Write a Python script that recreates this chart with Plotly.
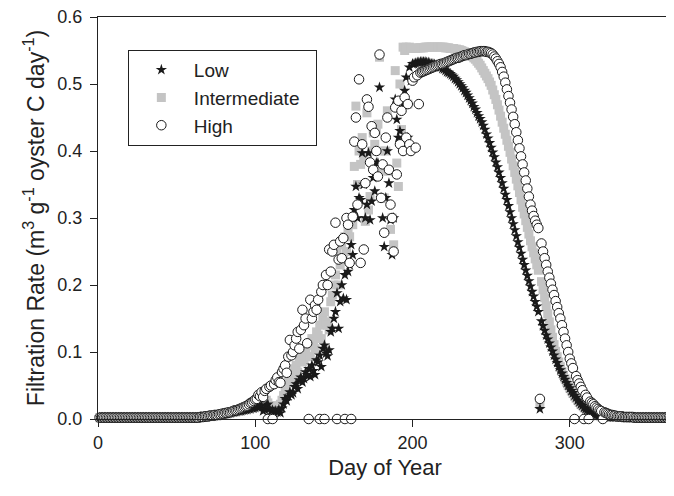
import plotly.graph_objects as go

# daily filtration rate, m3 g-1 oyster C day-1
days = list(range(1, 366))

low = [
    0.002, 0.002, 0.002, 0.002, 0.002, 0.002, 0.002, 0.002, 0.002, 0.002,
    0.002, 0.002, 0.002, 0.002, 0.002, 0.002, 0.002, 0.002, 0.002, 0.002,
    0.002, 0.002, 0.002, 0.002, 0.002, 0.002, 0.002, 0.002, 0.002, 0.002,
    0.002, 0.002, 0.002, 0.002, 0.002, 0.002, 0.002, 0.002, 0.002, 0.002,
    0.002, 0.002, 0.002, 0.002, 0.002, 0.002, 0.002, 0.002, 0.002, 0.002,
    0.002, 0.002, 0.002, 0.002, 0.002, 0.002, 0.002, 0.002, 0.002, 0.002,
    0.002, 0.002, 0.002, 0.002, 0.003, 0.003, 0.003, 0.003, 0.003, 0.004,
    0.004, 0.004, 0.004, 0.005, 0.005, 0.005, 0.006, 0.006, 0.007, 0.007,
    0.008, 0.008, 0.009, 0.009, 0.010, 0.010, 0.011, 0.011, 0.012, 0.012,
    0.012, 0.013, 0.013, 0.014, 0.014, 0.015, 0.015, 0.016, 0.016, 0.017,
    0.018, 0.018, 0.019, 0.020, 0.012, 0.014, 0.020, 0.022, 0.015, 0.012,
    0.013, 0.011, 0.012, 0.010, 0.014, 0.009, 0.016, 0.022, 0.030, 0.027,
    0.034, 0.040, 0.036, 0.039, 0.048, 0.052, 0.045, 0.058, 0.062, 0.055,
    0.060, 0.070, 0.066, 0.075, 0.063, 0.080, 0.072, 0.066, 0.088, 0.085,
    0.095, 0.078, 0.105, 0.110, 0.098, 0.094, 0.103, 0.130, 0.135, 0.150,
    0.160, 0.188, 0.135, 0.175, 0.200, 0.180, 0.215, 0.178, 0.220, 0.230,
    0.260, 0.245, 0.312, 0.347, 0.300, 0.330, 0.327, 0.397, 0.350, 0.300,
    0.320, 0.397, 0.297, 0.325, 0.360, 0.340, 0.382, 0.382, 0.495, 0.330,
    0.300, 0.257, 0.330, 0.400, 0.352, 0.297, 0.245, 0.300, 0.477, 0.447,
    0.420, 0.430, 0.415, 0.470, 0.490, 0.510, 0.420, 0.525, 0.505, 0.530,
    0.530, 0.531, 0.532, 0.532, 0.533, 0.533, 0.533, 0.533, 0.532, 0.532,
    0.531, 0.530, 0.530, 0.529, 0.528, 0.527, 0.526, 0.525, 0.523, 0.522,
    0.520, 0.518, 0.517, 0.515, 0.513, 0.511, 0.508, 0.506, 0.503, 0.500,
    0.497, 0.494, 0.490, 0.487, 0.483, 0.479, 0.475, 0.471, 0.466, 0.462,
    0.457, 0.452, 0.448, 0.443, 0.438, 0.432, 0.425, 0.419, 0.412, 0.405,
    0.398, 0.391, 0.383, 0.376, 0.368, 0.360, 0.352, 0.344, 0.335, 0.327,
    0.318, 0.309, 0.300, 0.291, 0.282, 0.273, 0.264, 0.256, 0.247, 0.238,
    0.230, 0.222, 0.214, 0.206, 0.198, 0.190, 0.183, 0.175, 0.168, 0.160,
    0.015, 0.146, 0.139, 0.132, 0.125, 0.119, 0.113, 0.107, 0.101, 0.095,
    0.089, 0.084, 0.078, 0.073, 0.068, 0.063, 0.059, 0.054, 0.050, 0.046,
    0.042, 0.039, 0.035, 0.032, 0.028, 0.025, 0.022, 0.020, 0.017, 0.015,
    0.013, 0.011, 0.010, 0.009, 0.008, 0.007, 0.006, 0.005, 0.005, 0.004,
    0.004, 0.004, 0.004, 0.003, 0.003, 0.003, 0.003, 0.003, 0.003, 0.003,
    0.003, 0.003, 0.003, 0.003, 0.002, 0.002, 0.002, 0.002, 0.002, 0.002,
    0.002, 0.002, 0.002, 0.002, 0.002, 0.002, 0.002, 0.002, 0.002, 0.002,
    0.002, 0.002, 0.002, 0.002, 0.002, 0.002, 0.002, 0.002, 0.002, 0.002,
    0.002, 0.002, 0.002, 0.002, 0.002,
]

intermediate = [
    0.002, 0.002, 0.002, 0.002, 0.002, 0.002, 0.002, 0.002, 0.002, 0.002,
    0.002, 0.002, 0.002, 0.002, 0.002, 0.002, 0.002, 0.002, 0.002, 0.002,
    0.002, 0.002, 0.002, 0.002, 0.002, 0.002, 0.002, 0.002, 0.002, 0.002,
    0.002, 0.002, 0.002, 0.002, 0.002, 0.002, 0.002, 0.002, 0.002, 0.002,
    0.002, 0.002, 0.002, 0.002, 0.002, 0.002, 0.002, 0.002, 0.002, 0.002,
    0.002, 0.002, 0.002, 0.002, 0.002, 0.002, 0.002, 0.002, 0.002, 0.002,
    0.002, 0.002, 0.002, 0.002, 0.003, 0.003, 0.003, 0.003, 0.003, 0.004,
    0.004, 0.004, 0.004, 0.005, 0.005, 0.005, 0.006, 0.006, 0.007, 0.007,
    0.008, 0.008, 0.009, 0.009, 0.010, 0.010, 0.011, 0.011, 0.012, 0.012,
    0.013, 0.014, 0.015, 0.016, 0.017, 0.018, 0.019, 0.020, 0.021, 0.022,
    0.023, 0.024, 0.025, 0.020, 0.022, 0.026, 0.028, 0.024, 0.020, 0.018,
    0.020, 0.018, 0.016, 0.019, 0.018, 0.022, 0.028, 0.035, 0.045, 0.050,
    0.055, 0.062, 0.058, 0.066, 0.075, 0.080, 0.070, 0.088, 0.095, 0.085,
    0.090, 0.105, 0.093, 0.110, 0.093, 0.120, 0.115, 0.105, 0.130, 0.125,
    0.140, 0.120, 0.150, 0.160, 0.145, 0.140, 0.133, 0.175, 0.185, 0.200,
    0.215, 0.250, 0.200, 0.230, 0.260, 0.240, 0.272, 0.250, 0.280, 0.272,
    0.300, 0.290, 0.377, 0.467, 0.350, 0.400, 0.380, 0.420, 0.390, 0.295,
    0.457, 0.312, 0.332, 0.400, 0.427, 0.410, 0.430, 0.440, 0.540, 0.400,
    0.370, 0.330, 0.400, 0.460, 0.370, 0.283, 0.300, 0.260, 0.520, 0.382,
    0.347, 0.500, 0.432, 0.555, 0.550, 0.555, 0.470, 0.555, 0.553, 0.553,
    0.553, 0.553, 0.554, 0.554, 0.554, 0.554, 0.554, 0.555, 0.555, 0.555,
    0.555, 0.555, 0.555, 0.555, 0.555, 0.555, 0.555, 0.555, 0.555, 0.555,
    0.554, 0.554, 0.554, 0.553, 0.553, 0.553, 0.552, 0.552, 0.551, 0.551,
    0.550, 0.549, 0.548, 0.547, 0.546, 0.545, 0.543, 0.541, 0.539, 0.537,
    0.534, 0.531, 0.528, 0.524, 0.520, 0.516, 0.512, 0.508, 0.503, 0.498,
    0.491, 0.484, 0.477, 0.469, 0.461, 0.452, 0.443, 0.434, 0.425, 0.416,
    0.407, 0.398, 0.388, 0.378, 0.368, 0.358, 0.348, 0.338, 0.327, 0.316,
    0.306, 0.296, 0.286, 0.276, 0.266, 0.257, 0.248, 0.239, 0.230, 0.222,
    0.022, 0.205, 0.193, 0.181, 0.169, 0.157, 0.145, 0.133, 0.122, 0.111,
    0.101, 0.093, 0.085, 0.078, 0.071, 0.065, 0.060, 0.055, 0.050, 0.046,
    0.042, 0.038, 0.034, 0.031, 0.028, 0.025, 0.022, 0.020, 0.018, 0.016,
    0.014, 0.012, 0.011, 0.010, 0.009, 0.008, 0.007, 0.006, 0.005, 0.005,
    0.004, 0.004, 0.004, 0.004, 0.003, 0.003, 0.003, 0.003, 0.003, 0.003,
    0.003, 0.003, 0.003, 0.003, 0.003, 0.002, 0.002, 0.002, 0.002, 0.002,
    0.002, 0.002, 0.002, 0.002, 0.002, 0.002, 0.002, 0.002, 0.002, 0.002,
    0.002, 0.002, 0.002, 0.002, 0.002, 0.002, 0.002, 0.002, 0.002, 0.002,
    0.002, 0.002, 0.002, 0.002, 0.002,
]

high = [
    0.002, 0.002, 0.002, 0.002, 0.002, 0.002, 0.002, 0.002, 0.002, 0.002,
    0.002, 0.002, 0.002, 0.002, 0.002, 0.002, 0.002, 0.002, 0.002, 0.002,
    0.002, 0.002, 0.002, 0.002, 0.002, 0.002, 0.002, 0.002, 0.002, 0.002,
    0.002, 0.002, 0.002, 0.002, 0.002, 0.002, 0.002, 0.002, 0.002, 0.002,
    0.002, 0.002, 0.002, 0.002, 0.002, 0.002, 0.002, 0.002, 0.002, 0.002,
    0.002, 0.002, 0.002, 0.002, 0.002, 0.002, 0.002, 0.002, 0.002, 0.002,
    0.002, 0.002, 0.002, 0.002, 0.003, 0.003, 0.003, 0.004, 0.004, 0.004,
    0.005, 0.005, 0.005, 0.006, 0.006, 0.006, 0.007, 0.007, 0.008, 0.008,
    0.009, 0.009, 0.010, 0.010, 0.011, 0.012, 0.013, 0.013, 0.014, 0.015,
    0.016, 0.017, 0.018, 0.019, 0.020, 0.022, 0.024, 0.025, 0.027, 0.029,
    0.030, 0.036, 0.034, 0.040, 0.033, 0.042, 0.045, 0.000, 0.048, 0.050,
    0.000, 0.052, 0.058, 0.062, 0.055, 0.054, 0.070, 0.075, 0.080, 0.069,
    0.093, 0.118, 0.095, 0.100, 0.110, 0.120, 0.130, 0.105, 0.133, 0.163,
    0.140, 0.150, 0.113, 0.000, 0.178, 0.150, 0.160, 0.170, 0.163, 0.178,
    0.000, 0.190, 0.200, 0.000, 0.215, 0.200, 0.253, 0.220, 0.250, 0.260,
    0.293, 0.000, 0.238, 0.265, 0.240, 0.270, 0.000, 0.300, 0.290, 0.233,
    0.000, 0.302, 0.414, 0.450, 0.320, 0.507, 0.233, 0.410, 0.253, 0.352,
    0.477, 0.466, 0.383, 0.437, 0.372, 0.427, 0.400, 0.362, 0.544, 0.330,
    0.380, 0.278, 0.420, 0.450, 0.372, 0.320, 0.300, 0.250, 0.465, 0.365,
    0.475, 0.410, 0.460, 0.400, 0.480, 0.420, 0.470, 0.410, 0.400, 0.505,
    0.510, 0.405, 0.513, 0.470, 0.517, 0.518, 0.519, 0.520, 0.521, 0.522,
    0.523, 0.524, 0.525, 0.526, 0.527, 0.528, 0.529, 0.530, 0.530, 0.531,
    0.532, 0.533, 0.534, 0.535, 0.536, 0.537, 0.538, 0.539, 0.539, 0.540,
    0.541, 0.542, 0.543, 0.543, 0.544, 0.545, 0.545, 0.546, 0.547, 0.547,
    0.548, 0.548, 0.549, 0.549, 0.549, 0.549, 0.548, 0.548, 0.547, 0.546,
    0.544, 0.541, 0.538, 0.534, 0.530, 0.525, 0.518, 0.511, 0.502, 0.492,
    0.482, 0.472, 0.462, 0.451, 0.440, 0.428, 0.416, 0.404, 0.392, 0.380,
    0.368, 0.356, 0.344, 0.332, 0.320, 0.311, 0.303, 0.296, 0.290, 0.285,
    0.030, 0.262, 0.250, 0.240, 0.230, 0.220, 0.211, 0.202, 0.193, 0.185,
    0.176, 0.167, 0.158, 0.150, 0.140, 0.130, 0.120, 0.110, 0.100, 0.090,
    0.083, 0.076, 0.000, 0.064, 0.058, 0.053, 0.048, 0.043, 0.000, 0.036,
    0.032, 0.000, 0.026, 0.024, 0.022, 0.019, 0.017, 0.015, 0.013, 0.012,
    0.000, 0.010, 0.009, 0.008, 0.007, 0.006, 0.006, 0.005, 0.005, 0.004,
    0.004, 0.004, 0.004, 0.003, 0.003, 0.003, 0.003, 0.003, 0.003, 0.003,
    0.002, 0.002, 0.002, 0.002, 0.002, 0.002, 0.002, 0.002, 0.002, 0.002,
    0.002, 0.002, 0.002, 0.002, 0.002, 0.002, 0.002, 0.002, 0.002, 0.002,
    0.002, 0.002, 0.002, 0.002, 0.002,
]

assert len(low) == len(intermediate) == len(high) == len(days)

x_ticks = [0, 100, 200, 300]
y_ticks = [0.0, 0.1, 0.2, 0.3, 0.4, 0.5, 0.6]

fig = go.Figure()

# grey squares go underneath, open circles on top
fig.add_trace(go.Scatter(
    x=days, y=intermediate, name='Intermediate\u00a0\u00a0', mode='markers', legendrank=2,
    cliponaxis=False,
    marker=dict(symbol='square', size=9, color='#c4c4c4', line=dict(width=0))
))
fig.add_trace(go.Scatter(
    x=days, y=low, name='Low', mode='markers', legendrank=1,
    cliponaxis=False,
    marker=dict(symbol='star', size=8.5, color='#1a1a1a', line=dict(width=0))
))
fig.add_trace(go.Scatter(
    x=days, y=high, name='High', mode='markers', legendrank=3,
    cliponaxis=False,
    marker=dict(symbol='circle', size=9.5, color='white', line=dict(width=1, color='#1a1a1a'))
))

axis_style = dict(
    showgrid=False, zeroline=False, showline=True, linecolor='#222', linewidth=1,
    mirror=True, ticks='outside', ticklen=7, tickwidth=1, tickcolor='#222',
    tickfont=dict(size=18, color='#222'), automargin=False, ticklabeloverflow='allow',
)

# the page body adds an 8 px offset, so the figure is 8 px smaller than the window
fig.update_layout(
    width=666,
    height=488,
    margin=dict(l=90, r=2, t=9, b=77),
    paper_bgcolor='white',
    plot_bgcolor='white',
    font=dict(family='Liberation Sans, Arial, sans-serif', color='#222'),
    xaxis=dict(
        axis_style, range=[0, 365], tickvals=x_ticks,
        title=dict(text='Day of Year', font=dict(size=22), standoff=8),
    ),
    yaxis=dict(
        axis_style, range=[0, 0.6], tickvals=y_ticks, tickformat='.1f', ticklabelstandoff=4,
        title=dict(text='Filtration Rate (m<sup>3</sup> g<sup>-1</sup> oyster C day<sup>-1</sup>)',
                   font=dict(size=23), standoff=6),
    ),
    legend=dict(
        x=0.052, y=0.918, xanchor='left', yanchor='top',
        bgcolor='white', bordercolor='#222', borderwidth=1,
        font=dict(size=19, color='#222'), itemwidth=55,
    ),
    showlegend=True,
)

fig.write_html("out.html")
